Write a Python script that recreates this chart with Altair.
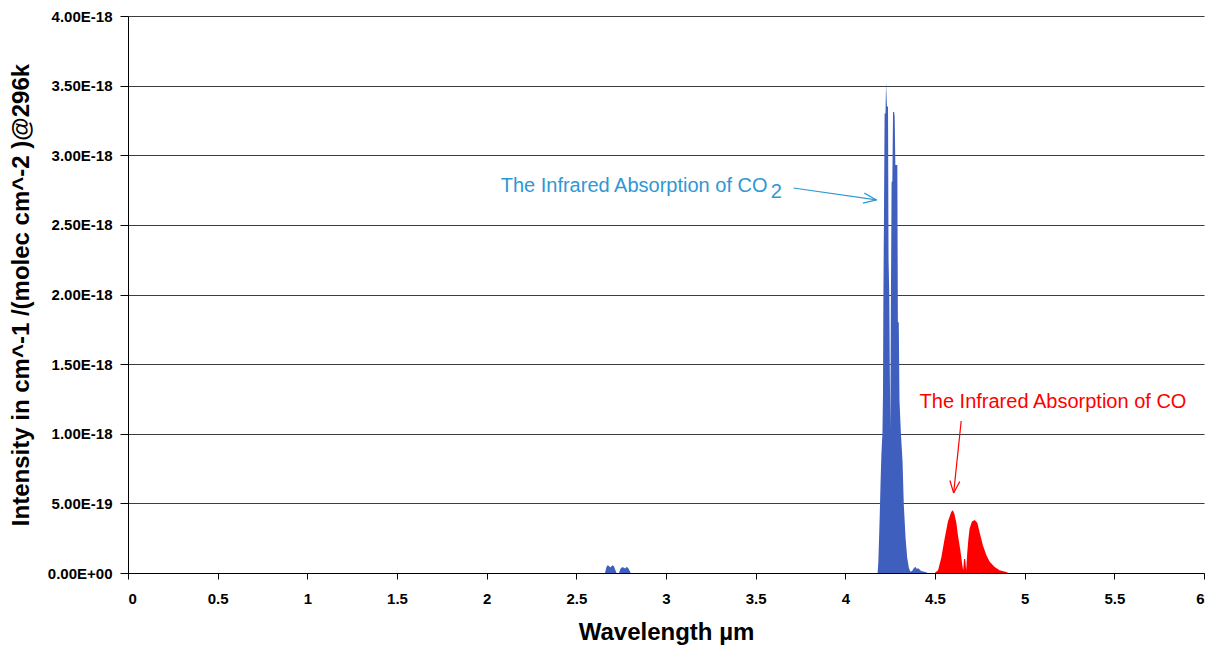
import altair as alt
import pandas as pd

# ---- spectral data (wavelength in µm, line intensity in cm^-1/(molec cm^-2)) ----
co2_wl = [2.660, 2.667, 2.674, 2.682, 2.690, 2.697, 2.704, 2.711, 2.718, 2.724,
          2.738, 2.746, 2.755, 2.764, 2.772, 2.780, 2.788, 2.796, 2.803,
          4.180, 4.184, 4.187, 4.192, 4.196, 4.201, 4.207, 4.210, 4.212, 4.215,
          4.219, 4.224, 4.227, 4.232, 4.238, 4.241, 4.245, 4.248, 4.251, 4.254,
          4.258, 4.262, 4.266, 4.272, 4.275, 4.279, 4.290, 4.293, 4.298, 4.302,
          4.310, 4.319, 4.326, 4.336, 4.345, 4.354, 4.362, 4.372, 4.382, 4.390,
          4.398, 4.406, 4.414, 4.422, 4.435, 4.450, 4.460]
co2_int = [0.0, 4.0e-20, 5.5e-20, 5.0e-20, 4.0e-20, 5.0e-20, 5.6e-20, 4.5e-20, 2.0e-20, 0.0,
           0.0, 3.0e-20, 4.2e-20, 4.0e-20, 3.2e-20, 4.3e-20, 3.8e-20, 2.0e-20, 0.0,
           0.0, 8.0e-20, 2.0e-19, 4.2e-19, 6.3e-19, 8.5e-19, 1.01e-18, 1.29e-18, 1.95e-18, 2.48e-18,
           3.30e-18, 3.30e-18, 3.52e-18, 3.35e-18, 3.35e-18, 2.25e-18, 2.00e-18, 1.46e-18, 1.03e-18, 1.94e-18,
           2.81e-18, 2.81e-18, 3.31e-18, 3.31e-18, 3.28e-18, 2.93e-18, 2.93e-18, 1.80e-18, 1.80e-18, 1.24e-18,
           1.00e-18, 8.0e-19, 4.9e-19, 2.5e-19, 1.1e-19, 4.0e-20, 1.0e-20, 1.5e-20, 3.5e-20, 4.5e-20,
           3.0e-20, 3.5e-20, 2.5e-20, 1.5e-20, 1.0e-20, 5.0e-21, 0.0]

co_wl = [4.498, 4.517, 4.535, 4.554, 4.572, 4.591, 4.600, 4.609, 4.619, 4.628,
         4.637, 4.645, 4.652, 4.657, 4.662, 4.668, 4.674, 4.680, 4.686, 4.693,
         4.706, 4.721, 4.736, 4.749, 4.767, 4.786, 4.805, 4.833, 4.860, 4.898, 4.910]
co_int = [0.0, 2.0e-20, 1.1e-19, 2.5e-19, 3.7e-19, 4.4e-19, 4.5e-19, 4.2e-19, 3.6e-19, 2.7e-19,
          2.0e-19, 1.3e-19, 6.0e-20, 2.0e-20, 1.0e-19, 1.0e-19, 2.0e-20, 1.5e-19, 2.4e-19, 3.2e-19,
          3.7e-19, 3.8e-19, 3.6e-19, 2.9e-19, 2.0e-19, 1.3e-19, 8.0e-20, 4.3e-20, 2.0e-20, 7.0e-21, 0.0]

y_ticks = [0.0, 5e-19, 1e-18, 1.5e-18, 2e-18, 2.5e-18, 3e-18, 3.5e-18, 4e-18]
x_ticks = [0, 0.5, 1, 1.5, 2, 2.5, 3, 3.5, 4, 4.5, 5, 5.5, 6]

# annotation texts (positions in data units)
label_text = ["The Infrared Absorption of CO", "2", "The Infrared Absorption of CO"]
label_x = [3.566, 3.584, 4.414]
label_y = [2.779e-18, 2.736e-18, 1.228e-18]
label_align = ["right", "left", "left"]
label_color = ["#2F97D3", "#2F97D3", "#FF0000"]

# arrow segments: shaft and two head wings, each ending at the arrow tip
arrow_x = [3.711, 4.106, 4.098, 4.646, 4.638, 4.583]
arrow_y = [2.765e-18, 2.728e-18, 2.656e-18, 1.092e-18, 0.656e-18, 0.664e-18]
arrow_x2 = [4.174, 4.174, 4.174, 4.604, 4.604, 4.604]
arrow_y2 = [2.679e-18, 2.679e-18, 2.679e-18, 0.5745e-18, 0.5745e-18, 0.5745e-18]
arrow_color = ["#2F97D3"] * 3 + ["#FF0000"] * 3

spec = pd.DataFrame({
    "wl": co2_wl + co_wl,
    "intensity": co2_int + co_int,
    "gas": ["CO2"] * len(co2_wl) + ["CO"] * len(co_wl),
})
labels = pd.DataFrame({"text": label_text, "x": label_x, "y": label_y,
                       "align": label_align, "color": label_color})
arrows = pd.DataFrame({"x": arrow_x, "y": arrow_y, "x2": arrow_x2, "y2": arrow_y2,
                       "color": arrow_color})

FONT = "Liberation Sans"
xscale = alt.Scale(domain=[0, 6], nice=False, zero=False)
yscale = alt.Scale(domain=[0, 4e-18], nice=False)

area = alt.Chart(spec).mark_area(interpolate="linear", opacity=1).encode(
    x=alt.X("wl:Q", scale=xscale,
            axis=alt.Axis(values=x_ticks, labelExpr="format(datum.value, '~g')",
                          title="Wavelength µm", grid=False,
                          domainColor="black", tickColor="black", tickSize=6,
                          labelFont=FONT, labelFontSize=15, labelFontWeight="bold",
                          labelColor="black", labelPadding=12,
                          titleFont=FONT, titleFontSize=24, titleFontWeight="bold",
                          titleColor="black", titlePadding=14)),
    y=alt.Y("intensity:Q", stack=None, scale=yscale,
            axis=alt.Axis(values=y_ticks,
                          labelExpr="datum.value == 0 ? '0.00E+00' : upper(format(datum.value, '.2e'))",
                          title="Intensity in cm^-1 /(molec cm^-2 )@296k",
                          grid=True, gridColor="#3c3c3c", gridWidth=1,
                          domainColor="black", tickColor="black", tickSize=8,
                          labelFont=FONT, labelFontSize=15, labelFontWeight="bold",
                          labelColor="black", labelPadding=8,
                          titleFont=FONT, titleFontSize=24, titleFontWeight="bold",
                          titleColor="black", titlePadding=14)),
    color=alt.Color("gas:N", scale=alt.Scale(domain=["CO2", "CO"], range=["#3F5FBF", "#FF0000"]),
                    legend=None),
)

text_right = alt.Chart(labels).transform_filter("datum.align == 'right'").mark_text(
    font=FONT, fontSize=20, baseline="middle", align="right").encode(
    x=alt.X("x:Q", scale=xscale),
    y=alt.Y("y:Q", scale=yscale),
    text="text:N",
    color=alt.Color("color:N", scale=None),
)
text_left = alt.Chart(labels).transform_filter("datum.align == 'left'").mark_text(
    font=FONT, fontSize=20, baseline="middle", align="left").encode(
    x=alt.X("x:Q", scale=xscale),
    y=alt.Y("y:Q", scale=yscale),
    text="text:N",
    color=alt.Color("color:N", scale=None),
)

rules = alt.Chart(arrows).mark_rule(strokeWidth=1.2).encode(
    x=alt.X("x:Q", scale=xscale),
    y=alt.Y("y:Q", scale=yscale),
    x2="x2:Q",
    y2="y2:Q",
    color=alt.Color("color:N", scale=None),
)

chart = alt.layer(area, rules, text_right, text_left).properties(
    width=1076, height=557,
    autosize=alt.AutoSizeParams(type="none"),
    padding={"left": 128, "top": 16, "right": 9, "bottom": 79},
    background="white",
).configure_view(stroke=None)

chart.save("out.html", embed_options={"renderer": "svg", "actions": False})
